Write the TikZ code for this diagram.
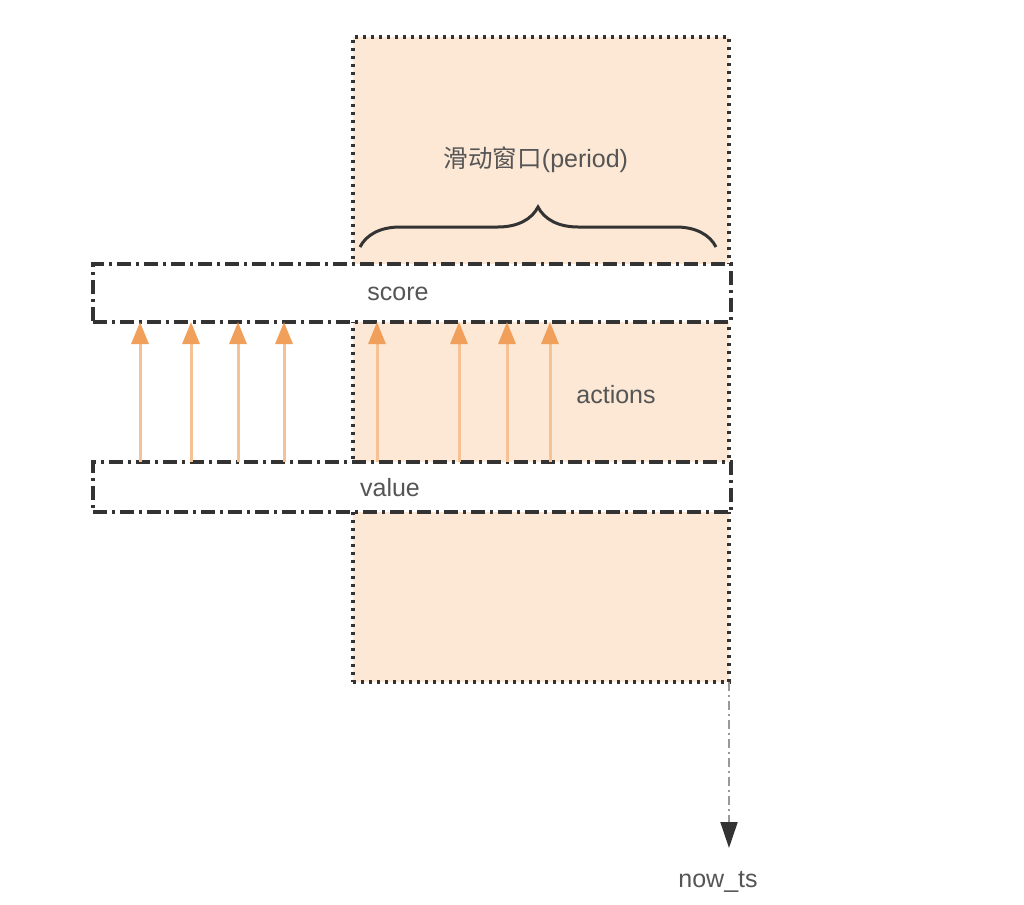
\documentclass[tikz,border=0pt]{standalone}
\usepackage{fontspec}
\setmainfont{Liberation Sans}
\newfontfamily\cjk{Noto Sans CJK SC}
\usetikzlibrary{arrows.meta,decorations.pathreplacing}
\definecolor{winfill}{HTML}{FCE8D5}
\definecolor{edge}{HTML}{333333}
\definecolor{txt}{HTML}{555555}
\definecolor{arrline}{HTML}{F5C296}
\definecolor{arrhead}{HTML}{F0A05A}
\tikzset{
  dashdot/.style={draw=edge, line width=3.2pt, dash pattern=on 14pt off 5pt on 3pt off 5pt},
  winbox/.style={draw=edge, fill=winfill, line width=3.2pt, dash pattern=on 3pt off 5pt, inner sep=0pt, outer sep=0pt},
  bandbox/.style={dashdot, fill=white, inner sep=0pt, outer sep=0pt},
  lbl/.style={text=txt, font=\fontsize{25}{28}\selectfont, inner sep=0pt},
  action/.style={draw=arrline, line width=3pt, -{Triangle[width=17pt,length=22pt,color=arrhead]}},
  timearrow/.style={draw=gray!80, line width=2pt, dash pattern=on 9pt off 4pt on 2pt off 4pt, -{Triangle[width=17pt,length=26pt,color=edge]}}
}
\begin{document}
\begin{tikzpicture}[x=1pt,y=-1pt]
\useasboundingbox (0,0) rectangle (1024,904);
% sliding window
\node[winbox, minimum width=376pt, minimum height=645pt] (win) at (541,359.5) {};
% bands
\node[bandbox, minimum width=638pt, minimum height=58pt] (score) at (412,293) {};
\node[bandbox, minimum width=638pt, minimum height=50pt] (value) at (412,487) {};
% labels
\node[lbl] (title) at (536,160) {{\cjk\fontsize{24.5}{28}\selectfont 滑动窗口}(period)};
\node[lbl] (scorelbl) at (398,294) {score};
\node[lbl] (valuelbl) at (390,488) {value};
\node[lbl] (actlbl) at (616,395) {actions};
% brace
\coordinate (bl) at (360,247);
\coordinate (br) at (716,247);
\draw[edge, line width=3pt, decorate, decoration={brace, amplitude=40pt}] (bl) -- (br);
% action arrows
\foreach \i/\x in {1/140,2/191,3/238,4/284,5/377,6/459,7/507,8/550}{
  \coordinate (s\i) at (\x,462);
  \draw[action] (s\i) -- (s\i |- score.south);
}
% time arrow
\coordinate (tend) at (729,848);
\draw[timearrow] (win.south east) -- (tend);
\node[lbl] (now) at (718,882) {now\_ts};
\end{tikzpicture}
\end{document}
